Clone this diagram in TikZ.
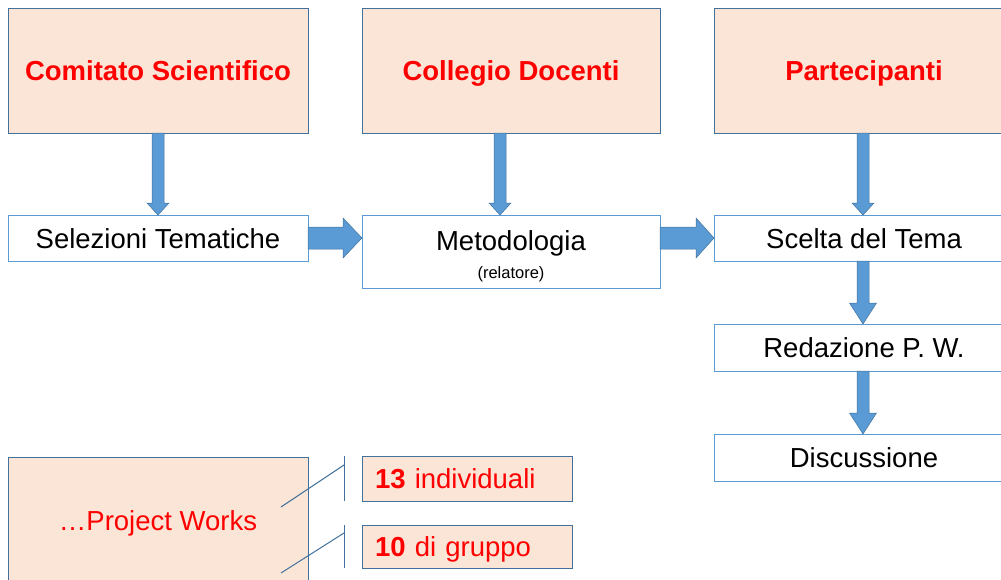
\documentclass[tikz,border=0pt]{standalone}
\usepackage{fontspec}
\setmainfont{Liberation Sans}
\usetikzlibrary{calc}
\definecolor{peach}{HTML}{FBE5D6}
\definecolor{darkblue}{HTML}{41719C}
\definecolor{lightblue}{HTML}{5B9BD5}
\definecolor{ared}{HTML}{FF0000}
\newcommand\bigfont{\fontsize{27.5}{31}\selectfont}
\newcommand\smallfont{\fontsize{16.5}{19}\selectfont}
% vertical fat arrow: #1 source, #2 target, #3 x offset, #4 shaft half, #5 head half, #6 head length
\newcommand\vfat[6]{%
  \path[fatarrow] let \p1=(#1.south), \p2=(#2.north) in
    (\x1+#3pt-#4pt,\y1) -- (\x1+#3pt-#4pt,\y2+#6pt) -- (\x1+#3pt-#5pt,\y2+#6pt)
    -- (\x1+#3pt,\y2) -- (\x1+#3pt+#5pt,\y2+#6pt) -- (\x1+#3pt+#4pt,\y2+#6pt)
    -- (\x1+#3pt+#4pt,\y1) -- cycle;}
% horizontal fat arrow: #1 source, #2 target, #3 node giving y, #4 shaft half, #5 head half, #6 head length
\newcommand\hfat[6]{%
  \path[fatarrow] let \p1=(#1.east), \p2=(#2.west), \p3=(#3.center) in
    (\x1,\y3+#4pt) -- (\x2-#6pt,\y3+#4pt) -- (\x2-#6pt,\y3+#5pt) -- (\x2,\y3)
    -- (\x2-#6pt,\y3-#5pt) -- (\x2-#6pt,\y3-#4pt) -- (\x1,\y3-#4pt) -- cycle;}
\begin{document}
\begin{tikzpicture}[x=1pt,y=-1pt,
  base/.style={rectangle,anchor=north west,inner sep=0pt,outer sep=0pt,align=center,font=\bigfont},
  oneline/.style={text height=20pt,text depth=0pt},
  headbox/.style={base,oneline,fill=peach,draw=darkblue,line width=1pt,text=ared,font=\bigfont\bfseries},
  stepbox/.style={base,fill=white,draw=lightblue,line width=0.9pt,text=black},
  countbox/.style={base,oneline,fill=peach,draw=darkblue,line width=1pt,text=ared,align=left,text width=184pt,inner xsep=13pt},
  fatarrow/.style={fill=lightblue,draw=darkblue,line width=0.5pt},
  callout/.style={draw=darkblue,line width=1pt}]
\useasboundingbox (0,0) rectangle (1001,579);
% top boxes
\node[headbox,minimum width=300pt,minimum height=125pt] (cs) at (8,8) {Comitato Scientifico};
\node[headbox,minimum width=298pt,minimum height=125pt] (cd) at (362,8) {Collegio Docenti};
\node[headbox,minimum width=300pt,minimum height=125pt] (pa) at (714,8) {Partecipanti};
% step boxes
\node[stepbox,oneline,minimum width=300pt,minimum height=46pt] (st) at (8,215) {Selezioni Tematiche};
\node[stepbox,minimum width=298pt,minimum height=73pt] (me) at (362,215) {\rule{0pt}{30pt}Metodologia\\[-3pt]{\smallfont (relatore)}};
\node[stepbox,oneline,minimum width=300pt,minimum height=46pt] (sc) at (714,215) {Scelta del Tema};
\node[stepbox,oneline,minimum width=300pt,minimum height=47pt] (re) at (714,324) {Redazione P. W.};
\node[stepbox,oneline,minimum width=300pt,minimum height=47pt] (di) at (714,434) {Discussione};
% bottom boxes
\node[base,oneline,fill=peach,draw=darkblue,line width=1pt,text=ared,minimum width=300pt,minimum height=126pt] (pw) at (8,457) {\ldots Project Works};
\node[countbox,minimum height=45pt] (ind) at (362,456) {\textbf{13} individuali};
\node[countbox,minimum height=43pt] (grp) at (362,525) {\textbf{10} di gruppo};
% fat arrows
\vfat{cs}{st}{0}{6}{11}{12}
\vfat{cd}{me}{-11}{6}{11}{12}
\vfat{pa}{sc}{-1}{6}{11}{12}
\vfat{sc}{re}{-1}{6}{13.5}{21}
\vfat{re}{di}{-1}{6}{13.5}{21}
\hfat{st}{me}{st}{11}{20}{19}
\hfat{me}{sc}{sc}{11}{20}{18}
% callouts
\coordinate (i1) at ($(ind.north west)+(-18,0)$);
\coordinate (i2) at ($(ind.south west)+(-18,0)$);
\coordinate (i3) at ($(ind.north west)+(-18,9)$);
\coordinate (p1) at ($(pw.north west)+(273,50)$);
\draw[callout] (i1) -- (i2);
\draw[callout] (p1) -- (i3);
\coordinate (g1) at ($(grp.north west)+(-18,0)$);
\coordinate (g2) at ($(grp.south west)+(-18,0)$);
\coordinate (g3) at ($(grp.north west)+(-18,8)$);
\coordinate (p2) at ($(pw.north west)+(273,116)$);
\draw[callout] (g1) -- (g2);
\draw[callout] (p2) -- (g3);
\end{tikzpicture}
\end{document}
